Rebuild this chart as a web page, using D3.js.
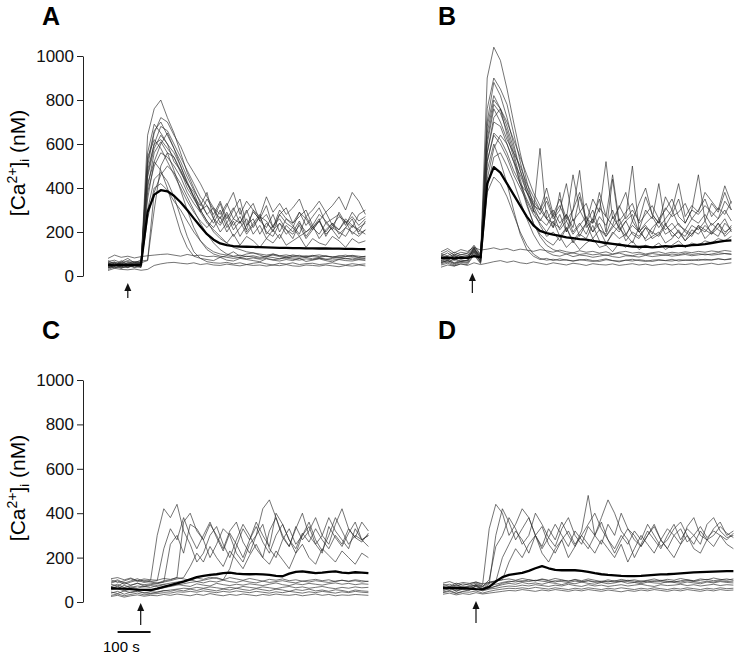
<!DOCTYPE html>
<html>
<head>
<meta charset="utf-8">
<script src="https://cdn.jsdelivr.net/npm/d3@7/dist/d3.min.js"></script>
<style>
  body { margin: 0; background: #fff; }
  .tick text { font-family: "Liberation Sans", Arial, sans-serif; font-size: 17px; fill: #111; }
  .tick line, .domain { stroke: #222; stroke-width: 1; }
  .trace { fill: none; stroke: #2a2a2a; stroke-width: 0.65; stroke-linejoin: round; }
  .mean { fill: none; stroke: #000; stroke-width: 2.3; stroke-linejoin: round; }
  .letter { font-family: "Liberation Sans", Arial, sans-serif; font-weight: bold; font-size: 25px; }
  .ylab { font-family: "Liberation Sans", Arial, sans-serif; font-size: 21px; }
</style>
</head>
<body>
<script>
// y ticks shared by the two axes (nM)
var yTicks = [0, 200, 400, 600, 800, 1000];

// sample times (s)
var timesA = [0,20,40,60,80,100,120,140,160,180,200,220,240,260,280,300,320,340,360,380,400,420,440,460,480,500,520,540,560,580,600,620,640,660,680,700,720,740,760,780];
var timesB = [0,20,40,60,80,100,120,140,160,180,200,220,240,260,280,300,320,340,360,380,400,420,440,460,480,500,520,540,560,580,600,620,640,660,680,700,720,740,760,780,800,820,840,860,880];
var timesC = timesA;
var timesD = timesB;

// stimulus (arrow) time per panel
var stimA = 60, stimB = 95, stimC = 90, stimD = 100;

// panel A, single cells
var cellsA = [
  [45,60,40,55,48,50,640,760,800,720,650,560,470,400,330,280,310,240,290,230,270,210,300,250,220,280,200,260,230,190,270,220,250,200,240,210,260,230,200,250],
  [60,45,70,50,62,58,560,690,650,600,520,480,400,350,300,250,220,270,200,250,180,230,260,190,240,210,170,230,200,250,180,220,190,240,210,170,220,260,190,210],
  [35,50,42,38,55,40,480,600,620,580,540,470,420,380,300,320,260,230,280,210,250,190,230,270,200,180,240,210,190,230,170,210,250,190,220,200,180,230,210,190],
  [70,55,65,80,60,72,420,520,480,400,300,200,130,90,80,75,70,85,72,68,80,75,70,65,78,72,68,75,70,80,66,72,78,70,64,75,70,68,74,70],
  [50,38,45,52,40,48,380,500,560,540,500,450,380,330,290,350,300,260,320,380,280,340,300,270,360,290,330,280,310,350,270,300,340,290,320,360,300,380,340,280],
  [40,52,35,45,50,42,300,440,470,430,360,270,180,110,80,65,60,58,62,55,60,52,58,62,55,50,58,54,60,52,56,58,52,55,60,54,50,56,52,55],
  [55,62,50,58,65,60,70,380,460,500,470,420,360,300,240,190,150,120,100,90,95,88,92,85,90,95,88,82,90,86,92,88,84,90,86,82,88,92,85,88],
  [30,42,36,48,38,44,350,520,600,650,580,520,450,390,340,280,240,300,220,260,310,200,240,280,190,230,260,210,170,240,200,220,260,180,230,210,250,190,220,240],
  [80,95,85,90,82,88,92,95,98,100,95,90,98,92,95,88,90,85,92,88,84,90,86,80,88,84,78,86,82,80,85,78,82,76,80,84,78,82,76,80],
  [25,35,30,28,32,26,30,48,55,60,62,58,55,60,52,56,50,48,54,50,46,52,48,50,45,50,47,52,46,44,50,48,45,50,46,42,48,45,50,46],
  [55,48,60,45,52,50,450,580,640,600,560,500,420,360,320,380,260,330,240,300,350,230,290,260,320,220,280,310,240,270,300,230,280,250,210,290,240,270,230,260],
  [45,55,40,60,48,52,260,400,420,390,340,300,250,200,160,130,110,100,95,110,90,100,105,95,85,100,92,88,96,90,85,94,88,92,86,90,95,88,84,90],
  [62,50,58,66,54,60,520,660,700,640,580,500,430,360,290,240,210,180,150,130,120,110,105,100,95,100,92,96,90,94,88,92,96,90,86,92,88,94,90,86],
  [38,46,52,40,48,44,400,560,610,560,480,390,300,220,160,120,100,90,85,80,84,78,82,76,80,74,78,82,76,72,78,74,80,76,72,76,80,74,78,76],
  [50,58,44,54,60,56,500,650,720,700,640,590,520,470,420,360,310,280,330,260,240,300,220,270,250,200,280,240,220,290,260,210,250,290,230,270,250,220,280,300],
  [66,72,60,70,64,68,72,300,500,560,540,480,420,360,300,250,200,170,150,190,140,180,160,130,170,150,190,140,160,180,130,170,150,140,180,160,130,170,150,160],
  [42,36,48,40,46,38,540,620,580,520,460,400,340,290,250,220,260,200,240,180,220,260,190,230,170,210,240,190,220,180,200,230,170,210,240,190,220,200,180,210],
  [58,64,52,60,56,62,460,600,680,660,600,540,480,420,360,320,280,340,260,310,240,290,330,250,280,220,300,260,240,290,230,270,310,240,260,280,230,290,250,270]
];
var meanA = [50,48,52,49,50,52,290,370,390,385,365,335,300,262,225,190,165,148,140,136,134,133,132,131,130,129,128,128,127,127,126,126,125,125,124,124,123,123,122,122];

// panel B, single cells
var cellsB = [
  [70,85,75,90,80,120,90,900,1040,980,850,700,560,430,320,250,300,220,280,200,260,180,240,300,210,190,270,220,180,250,200,230,190,260,210,240,200,180,230,210,250,190,220,260,200],
  [90,75,95,80,88,110,82,760,900,850,780,650,520,400,300,230,180,200,160,220,150,190,170,230,160,140,200,170,190,150,220,160,180,200,150,170,210,160,190,230,170,200,240,180,210],
  [60,72,58,66,70,130,64,650,800,760,640,540,420,350,290,580,260,220,380,200,300,480,220,260,350,200,440,230,270,500,210,300,260,420,230,280,350,240,300,460,250,330,290,380,300],
  [100,115,95,108,102,140,98,560,700,680,600,520,460,380,330,280,340,260,300,420,250,290,330,240,380,270,230,320,260,300,250,360,280,240,310,270,290,330,260,300,350,270,310,280,340],
  [55,65,50,62,58,100,60,480,600,520,420,300,190,120,90,75,80,70,78,72,68,75,70,66,72,78,70,64,72,68,74,70,66,72,70,76,68,72,74,70,76,72,78,74,80],
  [80,70,88,76,82,115,78,400,540,560,500,430,340,260,190,140,110,95,90,100,88,95,92,85,90,96,88,84,92,90,86,94,88,92,96,90,94,98,92,96,100,95,98,102,100],
  [75,90,70,85,78,125,80,520,650,620,560,480,420,380,320,300,400,280,350,260,460,300,240,350,290,520,260,310,380,250,330,400,280,240,360,300,420,270,320,290,380,340,300,410,330],
  [40,50,45,55,48,60,52,58,65,70,62,68,60,56,64,58,52,60,55,50,58,54,48,56,52,50,55,48,52,56,50,54,48,52,55,50,54,52,56,50,54,58,52,56,60],
  [110,125,105,120,112,130,118,122,128,120,125,115,122,118,112,120,115,108,118,110,105,115,108,112,104,110,100,108,112,104,108,100,106,110,102,108,104,110,106,112,108,114,110,116,112],
  [65,78,60,72,68,110,70,520,640,600,540,460,400,340,280,240,200,250,180,220,160,200,240,170,210,150,190,230,160,200,180,220,170,190,240,180,200,160,210,190,230,200,180,240,210],
  [95,82,100,88,92,125,86,600,760,700,620,560,500,420,360,300,260,240,220,280,200,240,190,260,210,180,230,200,250,190,170,220,200,180,230,200,170,210,190,220,200,240,210,190,230],
  [85,78,92,80,86,120,84,700,880,820,720,600,480,380,300,260,230,280,210,250,190,230,270,200,240,180,220,260,190,230,200,170,220,250,190,210,240,200,180,230,210,190,240,200,220],
  [70,62,76,66,72,105,68,620,780,740,660,560,440,330,240,180,140,120,110,100,105,98,102,96,100,94,98,104,96,92,100,96,102,98,94,100,96,104,98,102,96,100,106,102,98],
  [100,92,108,96,104,135,94,560,720,760,700,620,540,460,380,320,260,300,240,280,220,360,250,200,270,230,300,210,250,280,200,240,270,220,260,300,230,210,260,240,280,230,260,300,250],
  [60,70,55,66,62,115,64,440,580,640,600,520,420,320,240,190,160,140,180,130,160,120,150,170,130,140,110,150,130,160,120,140,130,150,120,140,160,130,150,140,160,150,170,160,180],
  [90,105,85,98,94,128,88,680,820,760,680,580,480,400,340,300,360,270,320,250,300,380,260,240,310,270,460,250,290,330,240,280,320,260,300,350,270,240,300,280,320,290,260,340,300],
  [50,58,46,55,52,95,56,380,450,420,360,280,200,140,100,80,72,76,70,74,68,72,76,70,66,74,70,68,72,76,70,66,72,74,70,68,74,72,70,76,72,74,78,74,76]
];
var meanB = [82,84,80,83,82,90,85,420,495,470,420,370,320,270,230,205,195,188,182,176,172,168,165,160,155,150,146,142,138,134,132,134,130,132,136,133,138,136,140,142,145,150,155,160,162];

// panel C, single cells
var cellsC = [
  [90,100,85,95,105,92,98,300,420,380,440,320,260,180,220,300,340,260,200,280,350,300,240,200,320,380,290,250,330,400,300,260,220,340,290,250,310,360,280,300],
  [100,88,95,105,92,98,90,85,95,100,110,360,400,320,280,350,300,240,320,360,270,220,300,420,460,380,300,250,340,280,320,380,300,260,350,420,330,290,360,320],
  [70,80,65,75,85,72,78,82,90,260,300,220,350,330,280,200,260,330,300,220,180,260,300,350,240,200,280,330,260,300,360,280,230,300,380,320,260,300,280,250],
  [60,72,55,68,62,70,65,75,80,85,90,95,100,92,98,105,110,100,150,250,330,280,360,300,250,400,350,280,220,300,340,260,300,380,320,280,240,330,280,300],
  [40,48,35,45,50,42,38,45,52,48,55,50,58,52,60,55,50,58,54,62,56,52,60,55,50,58,54,48,56,52,58,50,54,48,55,52,46,54,50,48],
  [25,30,22,28,32,26,30,28,34,30,36,32,28,35,30,38,32,28,34,30,36,32,28,34,30,36,32,30,34,28,32,36,30,34,28,32,30,34,32,30],
  [105,110,100,108,96,104,100,98,106,102,110,104,98,108,102,112,106,100,110,104,98,106,100,94,102,98,104,96,100,94,98,102,96,100,92,98,94,100,96,92],
  [70,62,75,66,72,68,74,70,78,72,80,74,70,82,76,72,84,78,74,80,76,82,78,74,80,86,78,74,82,78,84,80,76,82,86,80,84,78,82,80],
  [55,60,50,58,52,56,50,58,64,70,76,82,88,92,86,94,90,98,92,88,96,90,86,94,88,92,96,90,86,94,90,96,92,88,94,98,92,96,90,94],
  [85,95,80,90,98,88,92,96,240,330,280,380,300,240,300,360,290,230,310,260,200,280,340,270,220,300,350,280,240,310,270,330,280,240,300,260,330,290,270,310],
  [45,38,50,42,48,40,46,44,50,54,58,62,60,66,62,68,64,60,66,62,70,66,62,68,64,60,66,70,64,68,62,66,70,64,60,66,62,68,64,66],
  [30,36,28,34,40,32,36,38,42,40,46,44,48,44,50,46,42,48,44,50,46,42,48,44,40,46,42,48,44,40,46,42,48,44,40,46,42,48,44,42],
  [80,72,88,76,84,78,82,86,90,96,104,110,160,220,180,250,200,160,230,190,150,210,260,200,170,230,190,150,220,260,200,170,240,210,180,230,200,170,220,200]
];
var meanC = [62,60,60,58,56,55,54,60,68,76,84,92,102,112,118,122,125,130,132,128,126,125,126,124,122,118,116,128,136,138,134,130,132,136,138,132,130,134,132,130];

// panel D, single cells
var cellsD = [
  [80,70,85,75,82,90,78,330,440,400,300,350,420,380,300,250,330,280,360,300,250,320,480,300,260,350,300,400,330,280,250,300,350,280,330,300,260,340,380,300,280,330,360,300,320],
  [60,72,58,68,64,80,70,100,250,300,380,330,260,300,400,350,290,250,330,380,300,260,340,300,380,460,400,320,280,200,260,320,280,240,300,350,280,330,300,260,350,380,320,290,300],
  [70,64,78,66,72,75,68,85,92,200,260,320,280,220,300,340,260,220,280,320,260,300,350,400,330,280,240,300,260,320,280,350,300,250,280,330,360,300,260,320,280,300,340,310,290],
  [75,80,70,82,76,85,72,90,95,100,180,240,200,260,300,220,180,240,280,200,250,300,260,220,280,240,200,260,180,240,300,260,220,280,240,200,260,300,240,220,280,250,300,260,240],
  [45,52,40,48,55,60,50,58,62,68,72,70,76,72,78,74,70,76,72,80,74,70,78,72,76,70,74,78,72,76,80,74,70,78,74,76,80,74,78,72,76,80,74,78,76],
  [35,40,32,38,34,42,36,40,44,48,52,50,56,52,48,54,50,56,52,48,54,50,56,52,48,54,50,46,52,48,54,50,56,52,48,54,50,56,52,48,54,50,56,52,54],
  [85,92,80,88,84,90,82,88,95,100,104,98,106,100,96,104,98,106,100,94,102,96,104,98,92,100,94,102,96,100,94,98,104,96,102,98,106,100,96,104,100,108,102,98,104],
  [60,55,66,58,62,70,56,64,70,78,84,80,88,82,86,80,88,84,78,86,82,90,84,80,88,82,86,92,84,88,82,90,86,84,92,88,84,90,86,82,90,86,92,88,86],
  [50,62,48,58,52,75,56,60,72,84,90,96,92,100,95,102,96,90,98,94,100,92,96,88,94,90,96,92,98,94,88,96,92,98,94,90,96,100,94,98,102,96,100,104,98],
  [55,66,50,62,58,70,60,80,300,420,360,280,330,380,300,240,290,350,300,250,320,280,240,300,360,280,220,280,330,300,250,300,340,280,240,300,330,270,300,340,290,320,300,280,310],
  [42,48,38,46,44,50,40,48,54,58,62,60,64,60,66,62,58,64,60,56,62,58,64,60,56,62,58,64,60,56,62,58,64,60,56,62,58,64,60,56,62,58,64,60,62],
  [68,60,74,64,70,76,62,72,80,88,94,90,96,92,98,94,90,96,92,88,94,90,96,92,88,94,90,96,92,88,94,90,96,92,88,94,90,96,92,88,94,90,96,92,94]
];
var meanD = [64,64,62,63,60,58,57,68,92,112,122,127,131,140,152,162,152,145,143,144,143,140,136,130,125,122,120,118,117,117,118,120,122,124,125,127,129,131,133,135,136,137,138,139,139];

var W = 738, H = 654;
var pxPerSec = 0.33;

var svg = d3.select("body").append("svg")
    .attr("width", W)
    .attr("height", H);

var panels = [
  { letter: "A", lx: 42, ly: 25, x0: 108, y0: 276, y1000: 56,  times: timesA, cells: cellsA, mean: meanA, stim: stimA, arrowTip: 283, arrowEnd: 298, axis: true },
  { letter: "B", lx: 438, ly: 25, x0: 441, y0: 276, y1000: 56, times: timesB, cells: cellsB, mean: meanB, stim: stimB, arrowTip: 273, arrowEnd: 293, axis: false },
  { letter: "C", lx: 42, ly: 339, x0: 111, y0: 602, y1000: 380, times: timesC, cells: cellsC, mean: meanC, stim: stimC, arrowTip: 603, arrowEnd: 625, axis: true, bar: true },
  { letter: "D", lx: 438, ly: 339, x0: 443, y0: 602, y1000: 380, times: timesD, cells: cellsD, mean: meanD, stim: stimD, arrowTip: 601, arrowEnd: 623, axis: false }
];

panels.forEach(function(p) {
  var tMax = d3.max(p.times);
  var x = d3.scaleLinear().domain([0, tMax]).range([p.x0, p.x0 + tMax * pxPerSec]);
  var y = d3.scaleLinear().domain([0, 1000]).range([p.y0, p.y1000]);

  var line = d3.line()
      .x(function(d, i) { return x(p.times[i]); })
      .y(function(d) { return y(d); });

  var g = svg.append("g");

  g.append("text")
      .attr("class", "letter")
      .attr("x", p.lx)
      .attr("y", p.ly)
      .text(p.letter);

  if (p.axis) {
    g.append("g")
        .attr("transform", "translate(83,0)")
        .call(d3.axisLeft(y).tickValues(yTicks).tickFormat(d3.format("d"))
              .tickSize(6).tickSizeOuter(0).tickPadding(3));

    var lab = g.append("text")
        .attr("class", "ylab")
        .attr("text-anchor", "middle")
        .attr("transform", "translate(25," + ((p.y0 + p.y1000) / 2 - 3) + ") rotate(-90)");
    lab.append("tspan").text("[Ca");
    lab.append("tspan").attr("dy", -8).attr("font-size", "14px").text("2+");
    lab.append("tspan").attr("dy", 8).text("]");
    lab.append("tspan").attr("dy", 4).attr("font-size", "13px").text("i");
    lab.append("tspan").attr("dy", -4).text(" (nM)");
  }

  g.selectAll(".trace")
    .data(p.cells)
    .enter().append("path")
      .attr("class", "trace")
      .attr("d", line);

  g.append("path")
      .attr("class", "mean")
      .attr("d", line(p.mean));

  // stimulus arrow
  var ax = x(p.stim);
  g.append("line")
      .attr("x1", ax).attr("x2", ax)
      .attr("y1", p.arrowTip + 6).attr("y2", p.arrowEnd)
      .attr("stroke", "#111").attr("stroke-width", 1.2);
  g.append("path")
      .attr("d", "M" + ax + "," + p.arrowTip + "L" + (ax - 3.5) + "," + (p.arrowTip + 8) + "L" + (ax + 3.5) + "," + (p.arrowTip + 8) + "Z")
      .attr("fill", "#111");

  if (p.bar) {
    g.append("line")
        .attr("x1", x(20)).attr("x2", x(120))
        .attr("y1", 632).attr("y2", 632)
        .attr("stroke", "#111").attr("stroke-width", 2);
    g.append("text")
        .attr("x", 103).attr("y", 652)
        .style("font-family", "Liberation Sans, Arial, sans-serif")
        .style("font-size", "15px")
        .text("100 s");
  }
});
</script>
</body>
</html>
